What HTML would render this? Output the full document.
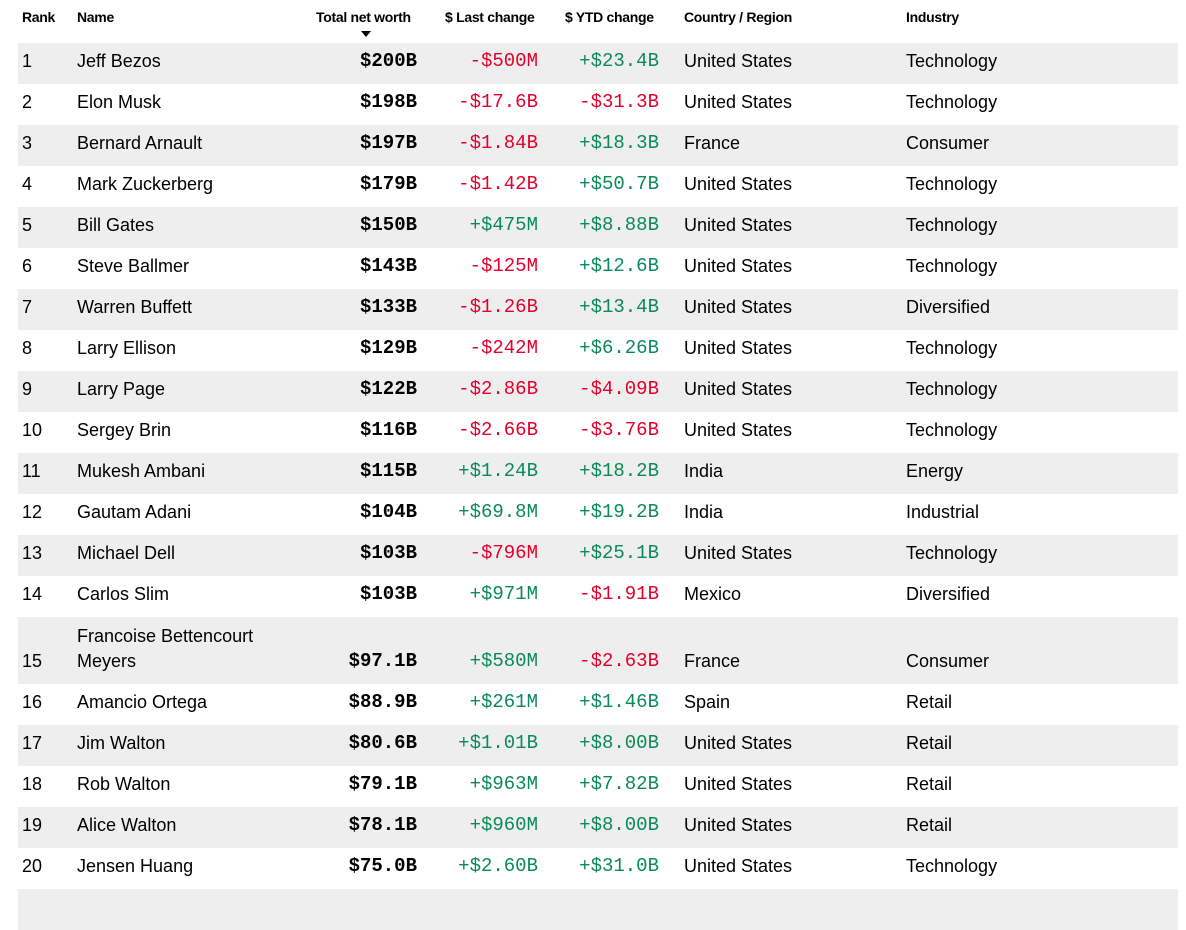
<!DOCTYPE html>
<html><head><meta charset="utf-8"><style>
body{margin:0;width:1186px;height:892px;background:#fff;overflow:hidden;font-family:"Liberation Sans",sans-serif;color:#000}
.h{position:absolute;top:9px;font-size:14px;font-weight:bold;letter-spacing:-0.3px}
.r{position:absolute;left:18px;width:1160px;height:41px}
.r.g{background:#eeeeee}
.c{position:absolute;bottom:2px;height:41px;line-height:41px;font-size:18px;white-space:nowrap}
.m{font-family:"Liberation Mono",monospace;font-size:19px;text-align:right}
.nw{font-weight:bold;right:761px}
.lc{right:640px}.yc{right:519px}
.red{color:#e4002b}.grn{color:#0a8a5a}
</style></head><body>
<div class="h" style="left:22px">Rank</div>
<div class="h" style="left:77px">Name</div>
<div class="h" style="left:316px">Total net worth</div>
<div style="position:absolute;left:361px;top:31px;width:0;height:0;border-left:5px solid transparent;border-right:5px solid transparent;border-top:6px solid #000"></div>
<div class="h" style="left:445px">$ Last change</div>
<div class="h" style="left:565px">$ YTD change</div>
<div class="h" style="left:684px">Country / Region</div>
<div class="h" style="left:906px">Industry</div>
<div id="t"></div>
<script>
const d=[
[1,"Jeff Bezos","$200B","-$500M","+$23.4B","United States","Technology"],
[2,"Elon Musk","$198B","-$17.6B","-$31.3B","United States","Technology"],
[3,"Bernard Arnault","$197B","-$1.84B","+$18.3B","France","Consumer"],
[4,"Mark Zuckerberg","$179B","-$1.42B","+$50.7B","United States","Technology"],
[5,"Bill Gates","$150B","+$475M","+$8.88B","United States","Technology"],
[6,"Steve Ballmer","$143B","-$125M","+$12.6B","United States","Technology"],
[7,"Warren Buffett","$133B","-$1.26B","+$13.4B","United States","Diversified"],
[8,"Larry Ellison","$129B","-$242M","+$6.26B","United States","Technology"],
[9,"Larry Page","$122B","-$2.86B","-$4.09B","United States","Technology"],
[10,"Sergey Brin","$116B","-$2.66B","-$3.76B","United States","Technology"],
[11,"Mukesh Ambani","$115B","+$1.24B","+$18.2B","India","Energy"],
[12,"Gautam Adani","$104B","+$69.8M","+$19.2B","India","Industrial"],
[13,"Michael Dell","$103B","-$796M","+$25.1B","United States","Technology"],
[14,"Carlos Slim","$103B","+$971M","-$1.91B","Mexico","Diversified"],
[15,"Meyers","$97.1B","+$580M","-$2.63B","France","Consumer"],
[16,"Amancio Ortega","$88.9B","+$261M","+$1.46B","Spain","Retail"],
[17,"Jim Walton","$80.6B","+$1.01B","+$8.00B","United States","Retail"],
[18,"Rob Walton","$79.1B","+$963M","+$7.82B","United States","Retail"],
[19,"Alice Walton","$78.1B","+$960M","+$8.00B","United States","Retail"],
[20,"Jensen Huang","$75.0B","+$2.60B","+$31.0B","United States","Technology"]];
let h="",y=43;
d.forEach((r,i)=>{const ht=r[0]==15?67:41;
const cl=v=>v[0]=="-"?"red":"grn";
h+=`<div class="r${i%2==0?' g':''}" style="top:${y}px;height:${ht}px">
<div class="c" style="left:4px">${r[0]}</div>
${r[0]==15?'<div class="c" style="left:59px;bottom:27px">Francoise Bettencourt</div>':''}
<div class="c" style="left:59px">${r[1]}</div>
<div class="c m nw">${r[2]}</div>
<div class="c m lc ${cl(r[3])}">${r[3]}</div>
<div class="c m yc ${cl(r[4])}">${r[4]}</div>
<div class="c" style="left:666px">${r[5]}</div>
<div class="c" style="left:888px">${r[6]}</div></div>`;y+=ht;});
h+=`<div class="r g" style="top:${y}px"></div>`;
document.getElementById("t").innerHTML=h;
</script>
</body></html>
